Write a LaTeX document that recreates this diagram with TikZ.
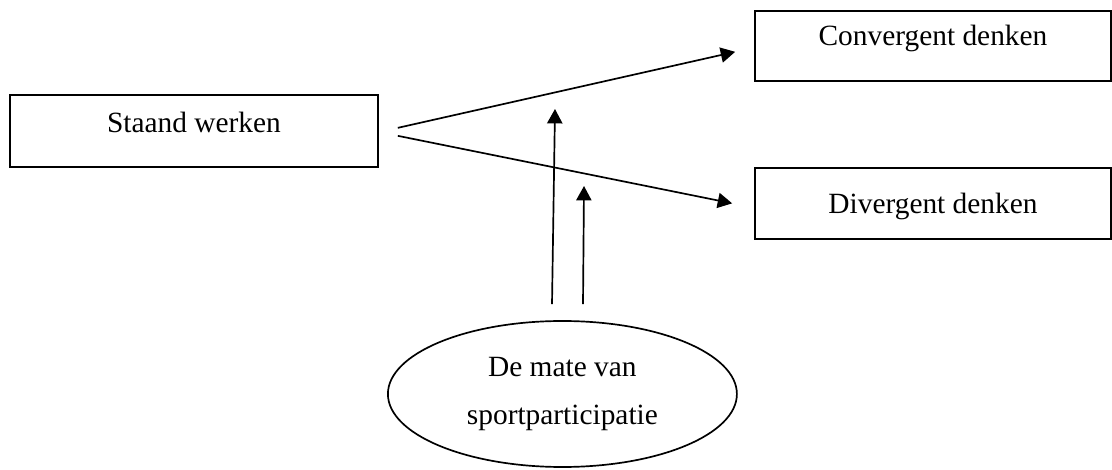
\documentclass[tikz,border=0pt]{standalone}
\usepackage{fontspec}
\setmainfont{Liberation Serif}
\usetikzlibrary{shapes.geometric, arrows.meta, positioning, calc}

\begin{document}
\begin{tikzpicture}[
    box/.style={rectangle, draw, line width=1.2pt, inner sep=0pt, anchor=north, font=\fontsize{20.9}{25}\selectfont},
    factor/.style={ellipse, draw, line width=1.2pt, inner sep=0pt, minimum width=8.725cm, minimum height=3.65cm, align=center, font=\fontsize{20.9}{34.1}\selectfont},
    arrow/.style={-{Triangle[length=0.36cm, width=0.38cm]}, line width=1.2pt}
]
\useasboundingbox (0,0) rectangle (27.8,11.75);

% Variables
\node[box, minimum width=9.2cm, text height=0.95cm, text depth=0.85cm] (stand) at (4.85,9.4) {Staand werken};
\node[box, minimum width=8.9cm, text height=0.875cm, text depth=0.875cm] (conv) at (23.325,11.5) {Convergent denken};
\node[box, minimum width=8.9cm, text height=1.15cm, text depth=0.625cm] (div) at (23.325,7.575) {Divergent denken};

% Moderator
\node[factor] (sport) at (14.06,1.9) {De mate van\\sportparticipatie};

% Arrow ends on the main paths
\coordinate (mod1) at (13.875,9.025);
\coordinate (mod2) at (14.6,7.1);

% Main effects
\draw[arrow] ([xshift=0.475cm, yshift=0.075cm]stand.east) -- ([xshift=-0.475cm, yshift=-0.15cm]conv.west);
\draw[arrow] ([xshift=0.475cm, yshift=-0.125cm]stand.east) -- ([xshift=-0.55cm]div.west);

% Moderation
\draw[arrow] ([xshift=-0.26cm, yshift=0.4cm]sport.north) -- (mod1);
\draw[arrow] ([xshift=0.515cm, yshift=0.4cm]sport.north) -- (mod2);

\end{tikzpicture}
\end{document}
